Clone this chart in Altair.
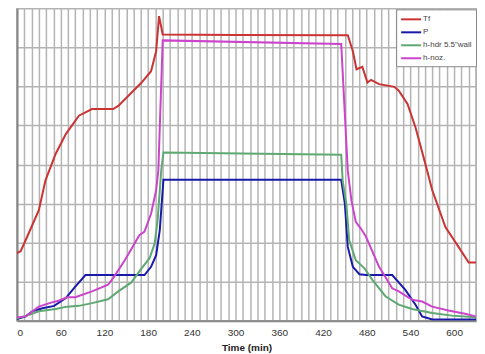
import altair as alt
import pandas as pd

series_names = ["Tf", "P", "h-hdr 5.5\"wall", "h-noz."]
series_colors = ["#cc3333", "#1a1aaa", "#5fa872", "#cc44cc"]

tf_t = [0, 5, 14, 30, 39, 53, 67, 85, 103, 132, 139, 153, 171, 184, 191, 195, 200, 300, 454, 461, 466, 474, 481, 486, 497, 518, 524, 536, 547, 558, 570, 588, 606, 620, 630]
tf_v = [1.73, 1.78, 2.15, 2.83, 3.59, 4.27, 4.78, 5.25, 5.42, 5.42, 5.5, 5.76, 6.1, 6.39, 6.9, 7.8, 7.33, 7.32, 7.31, 6.9, 6.44, 6.5, 6.1, 6.17, 6.06, 5.99, 5.89, 5.55, 4.95, 4.19, 3.34, 2.4, 1.89, 1.49, 1.49]

p_t = [0, 12, 21, 35, 51, 67, 80, 94, 175, 184, 191, 196, 201, 445, 450, 454, 461, 470, 479, 515, 533, 547, 556, 570, 630]
p_v = [0.04, 0.11, 0.24, 0.32, 0.38, 0.58, 0.87, 1.17, 1.17, 1.38, 1.68, 2.32, 3.61, 3.61, 3.0, 1.89, 1.38, 1.19, 1.17, 1.17, 0.79, 0.41, 0.11, 0.03, 0.03]

hdr_t = [0, 17, 30, 53, 69, 85, 103, 125, 139, 157, 171, 182, 189, 193, 198, 201, 445, 447, 452, 456, 465, 477, 488, 506, 524, 542, 570, 597, 630]
hdr_v = [0.06, 0.15, 0.24, 0.3, 0.36, 0.38, 0.45, 0.55, 0.75, 0.98, 1.34, 1.6, 1.98, 2.57, 3.85, 4.31, 4.25, 3.59, 3.0, 2.06, 1.55, 1.34, 1.04, 0.62, 0.41, 0.3, 0.2, 0.13, 0.09]

noz_t = [0, 12, 30, 48, 57, 69, 80, 103, 125, 132, 148, 168, 175, 184, 191, 194, 200, 445, 454, 459, 465, 472, 479, 497, 515, 524, 542, 556, 570, 592, 615, 630]
noz_v = [0.08, 0.11, 0.36, 0.47, 0.51, 0.6, 0.6, 0.75, 0.92, 1.09, 1.55, 2.19, 2.28, 2.74, 3.34, 3.85, 7.18, 7.09, 3.85, 3.08, 2.53, 2.36, 2.15, 1.38, 0.83, 0.75, 0.54, 0.49, 0.36, 0.26, 0.18, 0.11]

x_ticks = list(range(0, 631, 10))
y_ticks = list(range(0, 9))

rows = []
for name, ts, vs in [(series_names[0], tf_t, tf_v), (series_names[1], p_t, p_v),
                     (series_names[2], hdr_t, hdr_v), (series_names[3], noz_t, noz_v)]:
    for i, (t, v) in enumerate(zip(ts, vs)):
        rows.append({"series": name, "t": t, "v": v, "order": i})
df = pd.DataFrame(rows)

chart = alt.Chart(df).mark_line(strokeWidth=2, clip=True).encode(
    x=alt.X("t:Q", scale=alt.Scale(domain=[0, 630], nice=False, zero=False),
            axis=alt.Axis(title="Time (min)", values=x_ticks,
                          labelExpr="datum.value % 60 == 0 ? datum.label : ''",
                          ticks=False, grid=True, gridColor="#b4b4b4", gridWidth=1.5,
                          domainColor="#888888", domainWidth=2,
                          labelFont="Liberation Sans", labelFontSize=10, labelColor="#333333",
                          labelPadding=7,
                          titleFont="Liberation Sans", titleFontSize=10, titleFontWeight="bold",
                          titleColor="#222222", titlePadding=5)),
    y=alt.Y("v:Q", scale=alt.Scale(domain=[0, 8], nice=False),
            axis=alt.Axis(title=None, values=y_ticks, labels=False, ticks=False,
                          grid=True, gridColor="#b4b4b4", gridWidth=1.5,
                          domainColor="#888888", domainWidth=2)),
    color=alt.Color("series:N",
                    scale=alt.Scale(domain=series_names, range=series_colors),
                    legend=alt.Legend(title=None, orient="none", legendX=380, legendY=1,
                                      symbolType="M-2,0H2", symbolSize=100, symbolStrokeWidth=2,
                                      labelFont="Liberation Sans", labelFontSize=8,
                                      labelColor="#444444", labelOffset=6,
                                      fillColor="white", strokeColor="#888888",
                                      padding=4, rowPadding=3, symbolOffset=5)),
    order="order:Q",
).properties(
    width=460, height=313,
    padding={"left": 9, "top": 0, "right": 0, "bottom": 0},
).configure_view(stroke="#aaaaaa", strokeWidth=1.5)

chart.save("out.html", embed_options={"renderer": "svg", "actions": False})
